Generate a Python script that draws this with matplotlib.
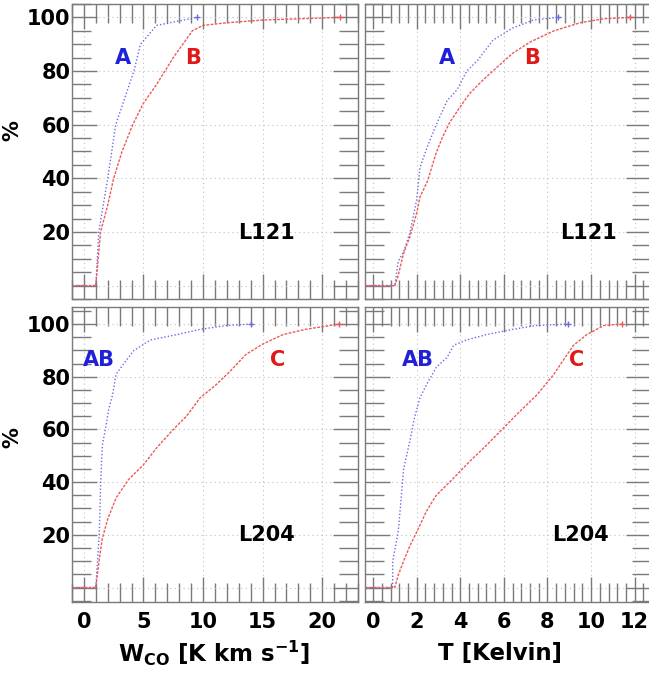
from matplotlib import pyplot as plt
from matplotlib.ticker import MultipleLocator

# cumulative distributions (percent)
# W_CO [K km/s], cloud L121
wco_l121_a_x = [-1.0, 1.0, 1.25, 2.0, 2.67, 4.2, 4.75, 6.1, 9.5]
wco_l121_a_y = [0, 0, 20, 40, 60, 80, 90, 97, 100]
wco_l121_b_x = [-1.0, 1.0, 1.4, 2.0, 2.5, 3.2, 4.1, 5.0, 6.1, 6.8, 7.5, 8.3, 9.1, 10.0, 12.0, 15.0, 21.5]
wco_l121_b_y = [0, 0, 20, 30, 40, 50, 60, 68, 75, 80, 85, 90, 95, 97, 98, 99, 100]

# T [K], cloud L121
t_l121_a_x = [-0.37, 1.0, 1.15, 1.4, 1.7, 2.0, 2.15, 2.5, 2.9, 3.4, 3.85, 4.3, 4.8, 5.5, 6.4, 7.35, 8.5]
t_l121_a_y = [0, 0, 9, 12.6, 20, 32, 44, 52, 60, 69, 73, 80, 84, 91.5, 96, 99, 100]
t_l121_b_x = [-0.37, 1.0, 1.15, 1.4, 1.7, 2.0, 2.15, 2.5, 2.9, 3.2, 3.5, 4.0, 4.45, 5.05, 5.7, 6.4, 7.2, 8.3, 9.5, 10.6, 11.8]
t_l121_b_y = [0, 0, 3.7, 12, 18.5, 27, 33, 39, 49.6, 55.6, 60.6, 66.7, 71.8, 76.7, 81.5, 86.6, 90.8, 95, 98, 99.5, 100]

# W_CO, cloud L204
wco_l204_ab_x = [-1.0, 1.0, 1.3, 1.4, 1.55, 1.8, 2.1, 2.4, 2.7, 3.35, 4.2, 5.6, 7.8, 9.75, 12.0, 14.0]
wco_l204_ab_y = [0, 0, 21, 39, 54, 60, 68, 73, 81, 85, 90, 94, 96, 98, 99.5, 100]
wco_l204_c_x = [-1.0, 1.0, 1.3, 1.55, 2.0, 2.7, 3.75, 5.0, 6.1, 7.5, 8.6, 9.75, 11.1, 12.25, 13.6, 15.0, 16.7, 18.6, 21.4]
wco_l204_c_y = [0, 0, 11, 18.7, 26, 34, 41, 46.6, 53, 60, 65, 72, 77, 82, 88.5, 92.4, 96, 98, 100]

# T, cloud L204
t_l204_ab_x = [-0.37, 0.9, 0.9, 1.15, 1.25, 1.4, 1.7, 1.9, 2.15, 2.45, 2.9, 3.4, 3.7, 4.3, 5.2, 6.4, 7.5, 8.95]
t_l204_ab_y = [0, 0, 10, 21, 30, 45, 56, 64.5, 72, 77, 83.6, 87.4, 92, 94, 96, 98, 99.5, 100]
t_l204_c_x = [-0.37, 1.0, 1.15, 1.4, 1.7, 2.0, 2.45, 2.9, 3.7, 4.45, 5.2, 6.0, 6.75, 7.5, 8.3, 8.7, 9.2, 9.8, 10.6, 11.4]
t_l204_c_y = [0, 0, 4.6, 10, 16, 21, 29, 35, 41.6, 48, 54, 60.7, 67, 73, 81, 86, 92, 96, 99.5, 100]

y_ticks = [0, 20, 40, 60, 80, 100]
y_ticklabels = ["", "20", "40", "60", "80", "100"]

BLUE = "#2020d8"
RED = "#e01818"
LINE_BLUE = "#6a6ae6"
LINE_RED = "#ec5a5a"
FRAME = "#7a7a7a"

plt.rcParams["font.family"] = "DejaVu Sans"
plt.rcParams["font.weight"] = "bold"
plt.rcParams["mathtext.default"] = "bf"

fig = plt.figure(figsize=(6.49, 6.82), dpi=100)

# panel boxes (left, bottom, width, height) in figure fraction
ax_tl = fig.add_axes([0.1109, 0.5616, 0.4407, 0.4326])
ax_tr = fig.add_axes([0.5624, 0.5616, 0.4407, 0.4326])
ax_bl = fig.add_axes([0.1109, 0.1173, 0.4407, 0.4326])
ax_br = fig.add_axes([0.5624, 0.1173, 0.4407, 0.4326])

panels = [
    (ax_tl, wco_l121_a_x, wco_l121_a_y, wco_l121_b_x, wco_l121_b_y, "wco", (-5, 105)),
    (ax_tr, t_l121_a_x, t_l121_a_y, t_l121_b_x, t_l121_b_y, "t", (-5, 105)),
    (ax_bl, wco_l204_ab_x, wco_l204_ab_y, wco_l204_c_x, wco_l204_c_y, "wco", (-5.5, 106.5)),
    (ax_br, t_l204_ab_x, t_l204_ab_y, t_l204_c_x, t_l204_c_y, "t", (-5.5, 106.5)),
]

for ax, bx, by, rx, ry, kind, ylim in panels:
    ax.plot(bx, by, color=LINE_BLUE, lw=1.0, linestyle=(0, (1, 1.5)))
    ax.plot(rx, ry, color=LINE_RED, lw=1.0, linestyle=(0, (2, 1)))
    ax.plot(bx[-1], by[-1], marker="+", color=LINE_BLUE, ms=5, mew=1)
    ax.plot(rx[-1], ry[-1], marker="+", color=LINE_RED, ms=5, mew=1)

    if kind == "wco":
        ax.set_xlim(-1, 23)
        ax.xaxis.set_major_locator(MultipleLocator(5))
        ax.xaxis.set_minor_locator(MultipleLocator(1))
    else:
        ax.set_xlim(-0.37, 12.75)
        ax.xaxis.set_major_locator(MultipleLocator(2))
        ax.xaxis.set_minor_locator(MultipleLocator(0.4))
    ax.set_ylim(*ylim)
    ax.set_yticks(y_ticks)
    ax.set_yticklabels(y_ticklabels)
    ax.yaxis.set_minor_locator(MultipleLocator(5))

    ax.grid(True, which="major", color="#c0c0c0", lw=0.8, linestyle=(0, (1, 3)))
    ax.tick_params(which="both", direction="in", top=True, right=True,
                   color=FRAME, width=1, labelsize=15)
    ax.tick_params(which="major", length=18)
    ax.tick_params(which="minor", length=14)
    ax.tick_params(axis="x", pad=7)
    ax.tick_params(axis="y", pad=1)
    for s in ax.spines.values():
        s.set_color(FRAME)
        s.set_linewidth(1)

ax_tl.tick_params(labelbottom=False)
ax_tr.tick_params(labelbottom=False, labelleft=False)
ax_br.tick_params(labelleft=False)

# curve names and cloud names
txt = dict(fontsize=15, fontweight="bold", ha="center", va="center")
ax_tl.text(3.3, 85, "A", color=BLUE, **txt)
ax_tl.text(9.2, 85, "B", color=RED, **txt)
ax_tl.text(15.3, 19.6, "L121", color="black", **txt)
ax_tr.text(3.4, 85, "A", color=BLUE, **txt)
ax_tr.text(7.3, 85, "B", color=RED, **txt)
ax_tr.text(9.9, 19.6, "L121", color="black", **txt)
ax_bl.text(1.25, 86.5, "AB", color=BLUE, **txt)
ax_bl.text(16.25, 86.5, "C", color=RED, **txt)
ax_bl.text(15.3, 20, "L204", color="black", **txt)
ax_br.text(2.06, 86.5, "AB", color=BLUE, **txt)
ax_br.text(9.36, 86.5, "C", color=RED, **txt)
ax_br.text(9.5, 20, "L204", color="black", **txt)

# axis titles
fig.text(0.0185, 0.809, "%", rotation=90, fontsize=15, fontweight="bold", ha="center", va="center")
fig.text(0.0185, 0.358, "%", rotation=90, fontsize=15, fontweight="bold", ha="center", va="center")
fig.text(0.33, 0.0425, r"W$_{CO}$ [K km s$^{-1}$]", fontsize=16.5, fontweight="bold", ha="center", va="center")
fig.text(0.77, 0.0425, "T [Kelvin]", fontsize=16.5, fontweight="bold", ha="center", va="center")

fig.savefig("out.png", dpi=100)
